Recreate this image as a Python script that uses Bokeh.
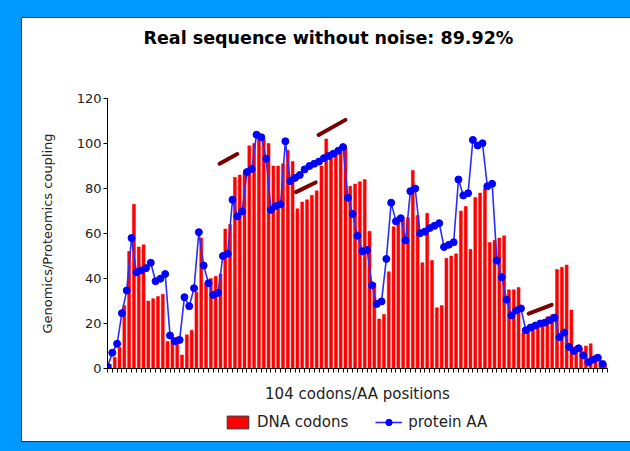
from bokeh.plotting import figure
from bokeh.models import Range1d, FixedTicker, Legend, LegendItem, CustomJSTickFormatter
from bokeh.layouts import column
from bokeh.embed import file_html
from bokeh.resources import INLINE

# ---------------- data ----------------
title_text = "Real sequence without noise: 89.92%"
x_label = "104 codons/AA positions"
y_label = "Genomics/Proteomics coupling"
y_ticks = [0, 20, 40, 60, 80, 100, 120]
series_names = ["DNA codons", "protein AA"]

positions = list(range(104))

dna_codons = [
    2, 5, 9.5, 28, 52, 73, 54, 55, 30, 31,
    32, 33, 12, 14, 14, 6, 15, 17, 34, 58,
    38, 40, 41, 42, 62, 64, 85, 86, 87, 99,
    100, 103, 102, 100, 90, 90, 91, 97, 92, 71,
    74, 75, 77, 79, 90, 102, 94, 95, 96, 98,
    81, 82, 83, 84, 61, 38, 22, 24, 43, 63,
    65, 66, 67, 88, 68, 47, 69, 48, 27, 28,
    49, 50, 51, 70, 72, 53, 76, 78, 80, 56,
    57, 58, 59, 35, 35, 36, 16, 17, 18, 20,
    21, 23, 24, 44, 45, 46, 26, 10, 9, 10,
    11, 6, 3, 2,
]

protein_aa = [
    0.6, 7, 11, 24.6, 34.7, 58, 42.8, 43.6, 44.6, 47,
    38.8, 39.9, 42, 14.7, 12.1, 12.7, 31.7, 27.7, 35.7, 60.6,
    45.8, 37.9, 32.7, 33.6, 50, 51, 75, 67.6, 69.8, 87.3,
    88.7, 103.9, 102.8, 93.2, 70.5, 72.2, 73, 101, 83.3, 84.7,
    86, 88.5, 90, 91, 92, 93.5, 94.5, 95.5, 96.8, 98.4,
    75.9, 68.7, 59, 52.1, 52.7, 37, 28.7, 29.8, 48.7, 73.7,
    65.4, 66.8, 56.9, 78.8, 80, 60.1, 60.8, 62.4, 63.4, 64.6,
    54, 55, 56.1, 84, 76.9, 77.9, 101.6, 99.1, 100.1, 81,
    82.1, 48, 40.6, 30.6, 23.6, 25.8, 26.7, 17, 18.2, 19.1,
    20, 20.4, 21.5, 22.6, 13.9, 16, 9.6, 7.8, 9, 5.8,
    2.8, 3.9, 4.8, 2,
]

# short dark-red trend marks
seg_x0 = [23.3, 39.2, 43.9, 87.6]
seg_y0 = [91.0, 78.4, 103.8, 24.4]
seg_x1 = [27.0, 43.3, 49.5, 92.4]
seg_y1 = [95.3, 82.7, 110.5, 28.3]

bar_x = [i + 0.5 for i in positions]

RED = "#FF0000"
BLUE_LINE = "#2B2BFF"
BLUE_DOT = "#0000FF"
TXT = "#222222"


def strip(height):
    f = figure(width=608, height=height, output_backend="svg",
               toolbar_location=None, x_axis_type=None, y_axis_type=None,
               x_range=Range1d(0, 104), y_range=Range1d(0, 120),
               min_border_left=0, min_border_right=0, min_border_top=0,
               min_border_bottom=0, border_fill_color="white",
               background_fill_color="white", outline_line_color=None)
    f.xgrid.visible = False
    f.ygrid.visible = False
    return f


# ---------------- title strip ----------------
t = strip(70)
t.title.text = title_text
t.title.text_font = "DejaVu Sans"
t.title.text_font_size = "17.5px"
t.title.text_font_style = "bold"
t.title.text_color = "black"
t.title.align = "left"
t.title.offset = 36
t.title.standoff = 14

# ---------------- main figure ----------------
p = figure(width=608, height=318, output_backend="svg", toolbar_location=None,
           x_range=Range1d(0, 104), y_range=Range1d(0, 120),
           min_border_left=85, min_border_right=23, min_border_top=10,
           min_border_bottom=38, border_fill_color="white",
           background_fill_color="white", outline_line_color=None)
p.xgrid.visible = False
p.ygrid.visible = False

p.vbar(x=bar_x, top=dna_codons, width=0.62, fill_color=RED,
       line_color=RED, line_width=0.5)
p.line(positions, protein_aa, line_color=BLUE_LINE, line_width=1.6)
p.scatter(positions, protein_aa, size=7, fill_color=BLUE_DOT, line_color=BLUE_DOT)
p.segment(seg_x0, seg_y0, seg_x1, seg_y1, line_color="#7A0000",
          line_width=4, line_cap="round")

# axes
p.yaxis.ticker = FixedTicker(ticks=y_ticks, minor_ticks=[])
p.yaxis.major_tick_out = 4
p.yaxis.major_tick_in = 0
p.yaxis.minor_tick_out = 0
p.yaxis.major_label_standoff = 2
p.yaxis.major_label_text_font = "DejaVu Sans"
p.yaxis.major_label_text_font_size = "13px"
p.yaxis.major_label_text_color = TXT
p.yaxis.axis_label = y_label
p.yaxis.axis_label_text_font = "DejaVu Sans"
p.yaxis.axis_label_text_font_size = "13px"
p.yaxis.axis_label_text_font_style = "normal"
p.yaxis.axis_label_text_color = TXT
p.yaxis.axis_label_standoff = 19
p.yaxis.axis_line_color = "black"

p.xaxis.ticker = FixedTicker(ticks=list(range(0, 105)), minor_ticks=[])
p.xaxis.formatter = CustomJSTickFormatter(code="return '';")
p.xaxis.major_tick_out = 4
p.xaxis.major_tick_in = 0
p.xaxis.minor_tick_out = 0
p.xaxis.major_label_standoff = 0
p.xaxis.axis_label = x_label
p.xaxis.axis_label_text_font = "DejaVu Sans"
p.xaxis.axis_label_text_font_size = "15px"
p.xaxis.axis_label_text_font_style = "normal"
p.xaxis.axis_label_text_color = TXT
p.xaxis.axis_label_standoff = 12
p.xaxis.axis_line_color = "black"

# ---------------- legend strip ----------------
q = strip(35)
lb = q.vbar(x=bar_x, top=dna_codons, width=0.62, fill_color=RED,
            line_color="#333333", line_width=1, visible=False)
ll = q.line(positions, protein_aa, line_color=BLUE_LINE, line_width=1.6,
            visible=False)
ls = q.scatter(positions, protein_aa, size=5, fill_color=BLUE_DOT,
               line_color=BLUE_DOT, visible=False)

legend = Legend(items=[LegendItem(label=series_names[0], renderers=[lb]),
                       LegendItem(label=series_names[1], renderers=[ll, ls])],
                orientation="horizontal", location=(117, 10),
                glyph_width=27, glyph_height=16, label_standoff=6, spacing=27,
                padding=0, margin=0, border_line_color=None,
                background_fill_alpha=0, label_text_font="DejaVu Sans",
                label_text_font_size="15px", label_text_color=TXT)
q.add_layout(legend)

inner = column(t, p, q, spacing=0,
               styles={"background-color": "white",
                       "border-left": "1px solid #333333",
                       "border-top": "1px solid #333333",
                       "border-bottom": "1px solid #333333"})
layout = column(inner, styles={"background-color": "#0099FF",
                               "padding": "17px 0px 9px 21px"})

open("out.html", "w").write(file_html(layout, INLINE))
